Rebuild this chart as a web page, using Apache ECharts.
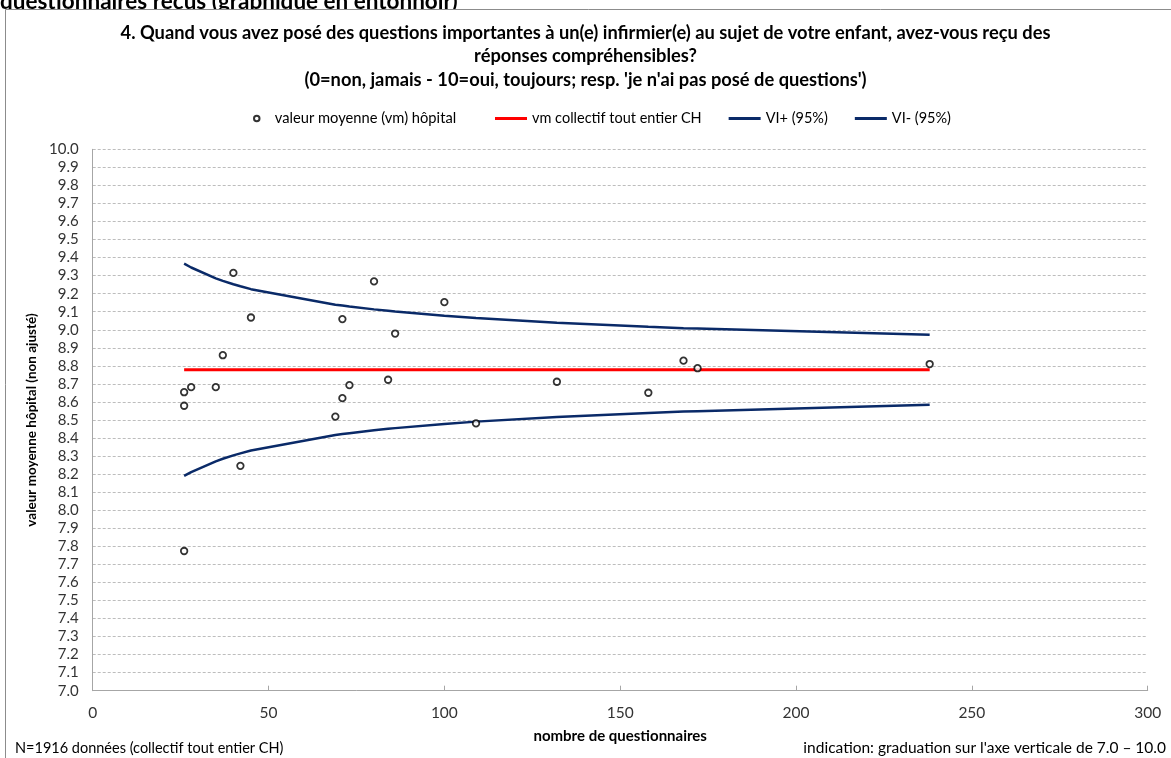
<!DOCTYPE html>
<html>
<head>
<meta charset="utf-8">
<script src="https://cdn.jsdelivr.net/npm/echarts@6/dist/echarts.min.js"></script>
<style>
html,body{margin:0;padding:0;background:#fff;}
#chart{width:1171px;height:758px;}
</style>
</head>
<body>
<div id="chart"></div>
<script>
// ---- data ----
const hospN = [26, 26, 26, 28, 35, 37, 40, 42, 45, 69, 71, 71, 73, 80, 84, 86, 100, 109, 132, 158, 168, 172, 238];
const hospMean = [8.654, 8.579, 7.774, 8.682, 8.682, 8.859, 9.315, 8.246, 9.068, 8.519, 8.621, 9.059, 8.693, 9.268, 8.723, 8.979, 9.153, 8.481, 8.712, 8.651, 8.829, 8.787, 8.810];

const chLineN = [26, 238];
const chMean = [8.778, 8.778];

const ciN = [26, 28, 35, 37, 40, 42, 45, 69, 71, 73, 80, 84, 86, 100, 109, 132, 158, 168, 172, 238];
const ciUpper = [9.366, 9.345, 9.285, 9.271, 9.252, 9.241, 9.225, 9.139, 9.134, 9.129, 9.113, 9.105, 9.101, 9.078, 9.065, 9.039, 9.017, 9.009, 9.007, 8.972];
const ciLower = [8.190, 8.211, 8.271, 8.285, 8.304, 8.315, 8.331, 8.417, 8.422, 8.427, 8.443, 8.451, 8.455, 8.478, 8.491, 8.517, 8.539, 8.547, 8.549, 8.584];

const seriesNames = ['valeur moyenne (vm) hôpital', 'vm collectif tout entier CH', 'VI+ (95%)', 'VI- (95%)'];
const headerText = 'questionnaires reçus (graphique en entonnoir)';
const titleText = "4. Quand vous avez posé des questions importantes à un(e) infirmier(e) au sujet de votre enfant, avez-vous reçu des\nréponses compréhensibles?\n(0=non, jamais - 10=oui, toujours; resp. 'je n'ai pas posé de questions')";
const xAxisName = 'nombre de questionnaires';
const yAxisName = 'valeur moyenne hôpital (non ajusté)';
const noteLeft = 'N=1916 données (collectif tout entier CH)';
const noteRight = "indication: graduation sur l'axe verticale de 7.0 – 10.0";

const FONT = 'Lato, "Open Sans", sans-serif';
const NAVY = '#0a2a68';

const zip = (a, b) => a.map((v, i) => [v, b[i]]);

const chart = echarts.init(document.getElementById('chart'), null, {renderer: 'canvas'});
chart.setOption({
  backgroundColor: '#fff',
  animation: false,
  textStyle: {fontFamily: FONT},
  title: {
    text: titleText,
    left: 'center',
    top: 16,
    textStyle: {fontFamily: FONT, fontSize: 18.3, fontWeight: 'bold', color: '#000', lineHeight: 23.5}
  },
  graphic: [
    {type: 'text', z: -3, left: 0, top: -10, style: {text: headerText, font: 'bold 22.5px ' + FONT, fill: '#000'}},
    {type: 'rect', z: -2, shape: {x: 5.5, y: 9.5, width: 1200, height: 800}, style: {fill: '#fff', stroke: '#8c8c8c', lineWidth: 1}},
    {type: 'text', z: 5, left: 15, top: 741, style: {text: noteLeft, font: '14.5px ' + FONT, fill: '#000'}},
    {type: 'text', z: 5, right: 5, top: 740, style: {text: noteRight, font: '15.5px ' + FONT, fill: '#000'}}
  ],
  legend: [
    {
      data: [{name: seriesNames[0], icon: 'circle'}],
      left: 248, top: 106,
      itemWidth: 26, itemHeight: 5.5,
      textStyle: {fontFamily: FONT, fontSize: 14.7, color: '#000'}
    },
    {
      data: [
        {name: seriesNames[1], icon: 'rect'},
        {name: seriesNames[2], icon: 'rect'},
        {name: seriesNames[3], icon: 'rect'}
      ],
      left: 490, top: 106,
      itemWidth: 32, itemHeight: 3, itemGap: 27,
      textStyle: {fontFamily: FONT, fontSize: 14.5, color: '#000'}
    }
  ],
  grid: {left: 92.7, right: 23.3, top: 149.3, bottom: 67.3, containLabel: false},
  xAxis: {
    type: 'value', min: 0, max: 300, interval: 50,
    name: xAxisName, nameLocation: 'middle', nameGap: 38,
    nameTextStyle: {fontFamily: FONT, fontSize: 15, fontWeight: 'bold', color: '#000'},
    axisLine: {show: true, lineStyle: {color: '#a6a6a6', width: 1}},
    axisTick: {show: true, inside: true, length: 5, lineStyle: {color: '#a6a6a6'}},
    axisLabel: {fontFamily: FONT, fontSize: 15.5, color: '#333', margin: 14},
    splitLine: {show: false}
  },
  yAxis: {
    type: 'value', min: 7, max: 10, interval: 0.1,
    name: yAxisName, nameLocation: 'middle', nameGap: 50, nameRotate: 90,
    nameTextStyle: {fontFamily: FONT, fontSize: 13.5, fontWeight: 'bold', color: '#000'},
    axisLine: {show: true, lineStyle: {color: '#a6a6a6', width: 1}},
    axisTick: {show: false},
    axisLabel: {fontFamily: FONT, fontSize: 15, color: '#333', margin: 14, formatter: v => v.toFixed(1)},
    splitLine: {show: true, lineStyle: {color: '#bdbdbd', type: [3, 2], width: 1}}
  },
  series: [
    {
      name: seriesNames[0], type: 'scatter', z: 5,
      data: zip(hospN, hospMean),
      symbol: 'circle', symbolSize: 6.5,
      itemStyle: {color: '#fff', borderColor: '#000', borderWidth: 1.8}
    },
    {
      name: seriesNames[1], type: 'line', z: 3,
      data: zip(chLineN, chMean),
      symbol: 'none', showSymbol: false,
      lineStyle: {color: '#ff0000', width: 3},
      itemStyle: {color: '#ff0000'}
    },
    {
      name: seriesNames[2], type: 'line', z: 3,
      data: zip(ciN, ciUpper),
      symbol: 'none', showSymbol: false,
      lineStyle: {color: NAVY, width: 2.5},
      itemStyle: {color: NAVY}
    },
    {
      name: seriesNames[3], type: 'line', z: 3,
      data: zip(ciN, ciLower),
      symbol: 'none', showSymbol: false,
      lineStyle: {color: NAVY, width: 2.5},
      itemStyle: {color: NAVY}
    }
  ]
});
</script>
</body>
</html>
